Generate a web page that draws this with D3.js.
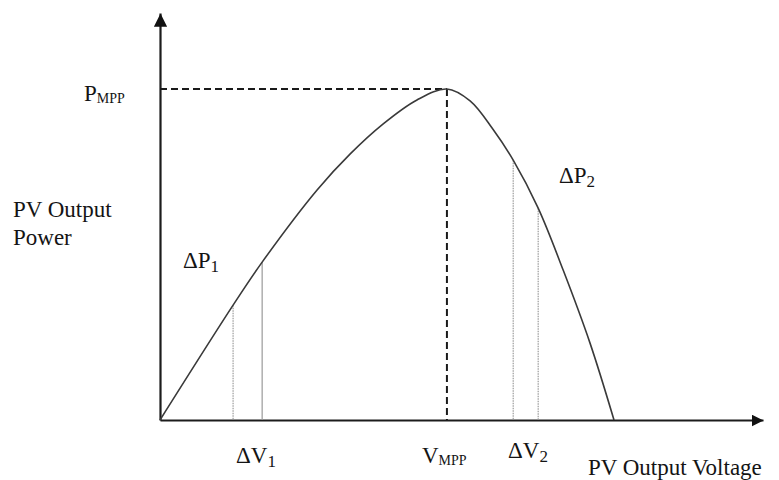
<!DOCTYPE html>
<html>
<head>
<meta charset="utf-8">
<script src="https://cdn.jsdelivr.net/npm/d3@7"></script>
<style>
  body { margin: 0; background: #fff; }
  text { font-family: "Liberation Serif", "Times New Roman", serif; fill: #141414; }
</style>
</head>
<body>
<div id="chart"></div>
<script>
// PV curve, voltage / power in % of Voc and Pmpp
const voltage = [0, 16.1, 22.5, 34.6, 41.9, 49.1, 56.6, 63.2, 68.3, 73.3, 77.8, 83.3, 88.8, 94.7, 100];
const power   = [0, 34.7, 47.7, 69.5, 80.4, 89.4, 96.7, 100, 96.4, 87.9, 78.5, 64.0, 45.3, 23.3, 0];

// perturbation steps (index into the curve)
const stepLeft = [1, 2];    // ΔV1
const stepRight = [10, 11]; // ΔV2
const mppIndex = 7;

const W = 779, H = 480;
const x = d3.scaleLinear().domain([0, 100]).range([160, 614]);
const y = d3.scaleLinear().domain([0, 100]).range([420, 89]);
const xMax = x.invert(763), yMax = y.invert(13);

const svg = d3.select('#chart').append('svg')
  .attr('width', W).attr('height', H);

const defs = svg.append('defs');
defs.append('marker')
  .attr('id', 'arrow')
  .attr('viewBox', '0 0 10 10')
  .attr('refX', 10).attr('refY', 5)
  .attr('markerWidth', 6).attr('markerHeight', 6)
  .attr('markerUnits', 'strokeWidth')
  .attr('orient', 'auto')
  .append('path').attr('d', 'M0,0L10,5L0,10Z').attr('fill', '#111');

// axes (no ticks, just the line + arrow)
const xAxis = svg.append('g')
  .attr('transform', `translate(0,${y(0)})`)
  .call(d3.axisBottom(d3.scaleLinear().domain([0, xMax]).range([x(0), x(xMax)]))
    .tickValues([]).tickSizeOuter(0));
xAxis.select('.domain').attr('stroke', '#1c1c1c').attr('stroke-width', 2).attr('marker-end', 'url(#arrow)');

const yAxis = svg.append('g')
  .attr('transform', `translate(${x(0)},0)`)
  .call(d3.axisLeft(d3.scaleLinear().domain([0, yMax]).range([y(0), y(yMax)]))
    .tickValues([]).tickSizeOuter(0));
yAxis.select('.domain').attr('stroke', '#1c1c1c').attr('stroke-width', 2.2).attr('marker-end', 'url(#arrow)');

// MPP guide lines
const vm = voltage[mppIndex], pm = power[mppIndex];
svg.append('line')
  .attr('x1', x(0)).attr('x2', x(vm)).attr('y1', y(pm)).attr('y2', y(pm))
  .attr('stroke', '#1a1a1a').attr('stroke-width', 2).attr('stroke-dasharray', '7,4');
svg.append('line')
  .attr('x1', x(vm)).attr('x2', x(vm)).attr('y1', y(pm)).attr('y2', y(0))
  .attr('stroke', '#1a1a1a').attr('stroke-width', 2).attr('stroke-dasharray', '7,4');

// step lines
[stepLeft, stepRight].forEach((st, k) => {
  st.forEach((i, j) => {
    svg.append('line')
      .attr('x1', x(voltage[i])).attr('x2', x(voltage[i]))
      .attr('y1', y(power[i])).attr('y2', y(0))
      .attr('stroke', '#9a9a9a').attr('stroke-width', 1.2)
      .attr('stroke-dasharray', (k === 0 && j === 1) ? null : '1.5,1');
  });
});

// PV curve
const line = d3.line()
  .x(d => x(d[0])).y(d => y(d[1]))
  .curve(d3.curveCatmullRom.alpha(0.5));
svg.append('path')
  .datum(voltage.map((v, i) => [v, power[i]]))
  .attr('d', line)
  .attr('fill', 'none')
  .attr('stroke', '#3a3a3a')
  .attr('stroke-width', 1.6);

// labels
function label(px, py, main, sub, size, subSize, subDy) {
  const t = svg.append('text').attr('x', px).attr('y', py).style('font-size', size + 'px');
  t.append('tspan').text(main);
  if (sub) t.append('tspan').attr('dy', subDy).style('font-size', subSize + 'px').text(sub);
  return t;
}

label(84, 101, 'P', 'MPP', 23, 14, 2);
svg.append('text').attr('x', 13).attr('y', 217).style('font-size', '23px').text('PV Output');
svg.append('text').attr('x', 13).attr('y', 245).style('font-size', '23px').text('Power');
label(183, 268, 'ΔP', '1', 23, 17, 4);
label(559, 183, 'ΔP', '2', 23, 17, 4);
label(236, 463, 'ΔV', '1', 23, 17, 4);
label(x(vm) - 25, 463, 'V', 'MPP', 23, 14, 2);
label(508, 458, 'ΔV', '2', 23, 17, 4);
svg.append('text').attr('x', 588).attr('y', 475).style('font-size', '23px').text('PV Output Voltage');
</script>
</body>
</html>
